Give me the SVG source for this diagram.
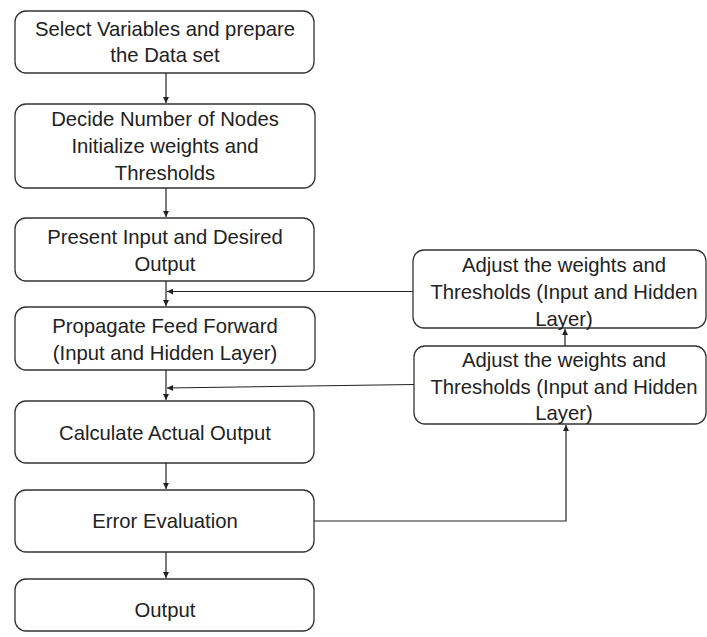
<svg xmlns="http://www.w3.org/2000/svg" width="707" height="637" viewBox="0 0 707 637">
<defs>
<marker id="ah" viewBox="0 0 10 10" refX="10" refY="5" markerWidth="6" markerHeight="6" orient="auto" markerUnits="userSpaceOnUse">
<path d="M0,0 L10,5 L0,10 z" fill="#222"/>
</marker>
</defs>
<style>
.box{fill:#fff;stroke:#333;stroke-width:1.3}
.t{font-family:"Liberation Sans",Arial,sans-serif;font-size:20.3px;fill:#222;text-anchor:middle;dominant-baseline:central}
.c{fill:none;stroke:#222;stroke-width:1.2}
</style>
<rect width="707" height="637" fill="#fff"/>
<g id="n1"><rect class="box" x="15" y="11" width="299" height="62" rx="11"/>
<text class="t" x="165" y="29">Select Variables and prepare</text><text class="t" x="165" y="55">the Data set</text></g>
<g id="n2"><rect class="box" x="15" y="104" width="300" height="84" rx="11"/>
<text class="t" x="165" y="119">Decide Number of Nodes</text><text class="t" x="165" y="146">Initialize weights and</text><text class="t" x="165" y="173">Thresholds</text></g>
<g id="n3"><rect class="box" x="15" y="218" width="299" height="63" rx="11"/>
<text class="t" x="165" y="237">Present Input and Desired</text><text class="t" x="165" y="264">Output</text></g>
<g id="n4"><rect class="box" x="15" y="307" width="300" height="63" rx="11"/>
<text class="t" x="165" y="326">Propagate Feed Forward</text><text class="t" x="165" y="353">(Input and Hidden Layer)</text></g>
<g id="n5"><rect class="box" x="15" y="401" width="299" height="62" rx="11"/>
<text class="t" x="165" y="433">Calculate Actual Output</text></g>
<g id="n6"><rect class="box" x="15" y="490" width="299" height="62" rx="11"/>
<text class="t" x="165" y="521">Error Evaluation</text></g>
<g id="n7"><rect class="box" x="15" y="579" width="299" height="52" rx="11"/>
<text class="t" x="165" y="610">Output</text></g>
<g id="r1"><rect class="box" x="413" y="250" width="293" height="78" rx="11"/>
<text class="t" x="564" y="265">Adjust the weights and</text><text class="t" x="564" y="292">Thresholds (Input and Hidden</text><text class="t" x="564" y="319">Layer)</text></g>
<g id="r2"><rect class="box" x="414" y="346" width="292" height="78" rx="11"/>
<text class="t" x="564" y="360">Adjust the weights and</text><text class="t" x="564" y="387">Thresholds (Input and Hidden</text><text class="t" x="564" y="413">Layer)</text></g>
<g id="connectors">
<line class="c" x1="166" y1="73" x2="166" y2="103" marker-end="url(#ah)"/>
<line class="c" x1="166" y1="188" x2="166" y2="217" marker-end="url(#ah)"/>
<line class="c" x1="166" y1="281" x2="166" y2="306" marker-end="url(#ah)"/>
<line class="c" x1="166" y1="370" x2="166" y2="400" marker-end="url(#ah)"/>
<line class="c" x1="166" y1="463" x2="166" y2="489" marker-end="url(#ah)"/>
<line class="c" x1="166" y1="552" x2="166" y2="578" marker-end="url(#ah)"/>
<line class="c" x1="413" y1="291.5" x2="167" y2="291.5" marker-end="url(#ah)"/>
<line class="c" x1="414" y1="384.5" x2="167" y2="388" marker-end="url(#ah)"/>
<line class="c" x1="565" y1="346" x2="565" y2="329" marker-end="url(#ah)"/>
<polyline class="c" points="314,521 566,521 566,425" marker-end="url(#ah)"/>
</g>
</svg>
